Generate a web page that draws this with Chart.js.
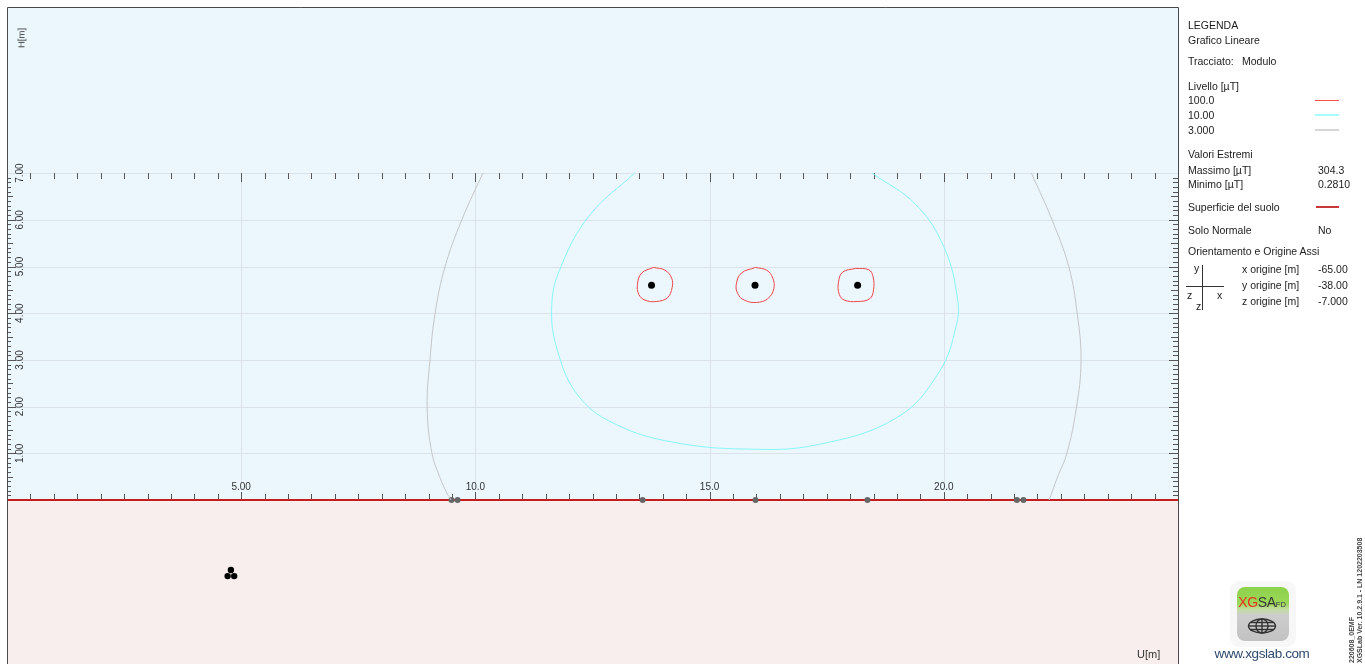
<!DOCTYPE html>
<html>
<head>
<meta charset="utf-8">
<title>Grafico Lineare - Modulo</title>
<script src="https://cdn.jsdelivr.net/npm/chart.js@4/dist/chart.umd.min.js"></script>
<style>
  html, body { margin: 0; padding: 0; background: #fff; overflow: hidden; }
  #wrap { position: relative; width: 1365px; height: 664px; }
  #c { position: absolute; left: 0; top: 0; }
  .t { position: absolute; font: 10.5px "Liberation Sans", Arial, sans-serif; color: #1c1c1c;
       white-space: nowrap; line-height: 14px; height: 14px; }
  .rot { position: absolute; white-space: nowrap; transform: translate(-50%, -50%) rotate(-90deg); }
  .ln { position: absolute; height: 0; }
</style>
</head>
<body>
<div id="wrap">
  <canvas id="c" width="1365" height="664"></canvas>

  <!-- side legend -->
  <div class="t" style="left:1188px;top:18px">LEGENDA</div>
  <div class="t" style="left:1188px;top:33px">Grafico Lineare</div>
  <div class="t" style="left:1188px;top:54px">Tracciato:</div>
  <div class="t" style="left:1242px;top:54px">Modulo</div>
  <div class="t" style="left:1188px;top:79px">Livello [µT]</div>
  <div class="t" style="left:1188px;top:93px">100.0</div>
  <div class="ln" style="left:1315px;top:100px;width:24px;border-top:1px solid #ff4f4f"></div>
  <div class="t" style="left:1188px;top:108px">10.00</div>
  <div class="ln" style="left:1315px;top:114px;width:24px;border-top:2px solid #a6fbff"></div>
  <div class="t" style="left:1188px;top:123px">3.000</div>
  <div class="ln" style="left:1315px;top:129px;width:24px;border-top:2px solid #d6d6d6"></div>
  <div class="t" style="left:1188px;top:147px">Valori Estremi</div>
  <div class="t" style="left:1188px;top:163px">Massimo [µT]</div>
  <div class="t" style="left:1318px;top:163px">304.3</div>
  <div class="t" style="left:1188px;top:177px">Minimo [µT]</div>
  <div class="t" style="left:1318px;top:177px">0.2810</div>
  <div class="t" style="left:1188px;top:200px">Superficie del suolo</div>
  <div class="ln" style="left:1316px;top:206px;width:23px;border-top:2px solid #c83a3a"></div>
  <div class="t" style="left:1188px;top:223px">Solo Normale</div>
  <div class="t" style="left:1318px;top:223px">No</div>
  <div class="t" style="left:1188px;top:244px">Orientamento e Origine Assi</div>
  <div class="t" style="left:1194px;top:261px">y</div>
  <div class="ln" style="left:1202px;top:265px;width:0;height:45px;border-left:1px solid #333"></div>
  <div class="ln" style="left:1186px;top:286px;width:38px;border-top:1px solid #333"></div>
  <div class="t" style="left:1187px;top:288px">z</div>
  <div class="t" style="left:1217px;top:288px">x</div>
  <div class="t" style="left:1196px;top:299px">z</div>
  <div class="t" style="left:1242px;top:262px">x origine [m]</div>
  <div class="t" style="left:1318px;top:262px">-65.00</div>
  <div class="t" style="left:1242px;top:278px">y origine [m]</div>
  <div class="t" style="left:1318px;top:278px">-38.00</div>
  <div class="t" style="left:1242px;top:294px">z origine [m]</div>
  <div class="t" style="left:1318px;top:294px">-7.000</div>

  <!-- axis titles -->
  <div class="rot" style="left:21px;top:38px;font:9.5px 'Liberation Sans',Arial,sans-serif;color:#333">H[m]</div>
  <div class="t" style="left:1137px;top:647px;font-size:11px;color:#333">U[m]</div>

  <!-- logo text -->
  <div style="position:absolute;left:1262px;top:603px;transform:translate(-50%,-50%);white-space:nowrap;font:14px 'Liberation Sans',Arial,sans-serif;line-height:16px;letter-spacing:-0.3px"><span style="color:#e8321e">XG</span><span style="color:#333">SA</span><span style="font-size:7.5px;color:#333;letter-spacing:0">FD</span></div>
  <div style="position:absolute;left:1262px;top:654px;transform:translate(-50%,-50%);white-space:nowrap;font:13.5px 'Liberation Sans',Arial,sans-serif;color:#2f4b6d;line-height:16px;letter-spacing:-0.4px">www.xgslab.com</div>

  <!-- version stamp -->
  <div style="position:absolute;left:1348px;top:663px;transform-origin:0 0;transform:rotate(-90deg);white-space:nowrap;font:bold 7px 'Liberation Sans',Arial,sans-serif;color:#444;line-height:8px">220608_0EMF</div>
  <div style="position:absolute;left:1356px;top:663px;transform-origin:0 0;transform:rotate(-90deg);white-space:nowrap;font:bold 7px 'Liberation Sans',Arial,sans-serif;color:#444;line-height:8px">XGSLab Ver. 10.2.9.1 - LN 1202203508</div>
</div>

<script>
// Axis ticks (U along the section, H height above ground)
const uTickValues = [5, 10, 15, 20];
const uTickLabels = ['5.00', '10.0', '15.0', '20.0'];
const hTickValues = [1, 2, 3, 4, 5, 6, 7];
const hTickLabels = ['1.00', '2.00', '3.00', '4.00', '5.00', '6.00', '7.00'];

// Overhead conductors
const conductorU = [13.76, 15.97, 18.16];
const conductorH = [4.60, 4.60, 4.60];

// Points on the ground surface
const groundU = [9.49, 9.62, 13.57, 15.98, 18.37, 21.56, 21.70];
const groundH = [0, 0, 0, 0, 0, 0, 0];

// Buried cable trefoil
const buriedU = [4.78, 4.71, 4.85];
const buriedH = [-1.50, -1.63, -1.63];

// Iso-level 3.000 µT (two branches)
const level3LeftU = [10.16, 9.71, 9.35, 9.14, 9.03, 8.97, 9.07, 9.24, 9.39, 9.48];
const level3LeftH = [7.00, 6.00, 4.99, 4.00, 3.00, 1.99, 1.01, 0.49, 0.15, 0.00];
const level3RightU = [21.87, 22.31, 22.67, 22.85, 22.93, 22.83, 22.63, 22.42, 22.25];
const level3RightH = [7.00, 6.00, 4.99, 3.98, 2.98, 1.97, 1.01, 0.47, 0.00];

// Iso-level 10.00 µT
const level10U = [13.40, 12.44, 11.84, 11.63, 11.76, 12.23, 13.02, 14.21, 15.79, 17.28, 18.99, 19.90, 20.27, 20.29, 20.01, 19.41, 18.47];
const level10H = [7.00, 6.10, 5.03, 4.18, 3.17, 2.19, 1.61, 1.24, 1.09, 1.18, 1.76, 2.74, 3.75, 4.33, 5.40, 6.32, 7.00];

// Iso-level 100.0 µT (one loop per conductor)
const level100aU = [13.80, 14.05, 14.19, 14.20, 14.10, 13.86, 13.62, 13.49, 13.46, 13.55, 13.80];
const level100aH = [4.98, 4.92, 4.75, 4.55, 4.33, 4.25, 4.28, 4.40, 4.62, 4.86, 4.98];
const level100bU = [15.98, 16.22, 16.35, 16.37, 16.24, 16.00, 15.74, 15.60, 15.57, 15.68, 15.98];
const level100bH = [4.98, 4.92, 4.75, 4.52, 4.31, 4.23, 4.28, 4.42, 4.62, 4.86, 4.98];
const level100cU = [18.12, 18.40, 18.49, 18.50, 18.42, 18.15, 17.88, 17.77, 17.75, 17.84, 18.12];
const level100cH = [4.96, 4.93, 4.78, 4.50, 4.31, 4.25, 4.28, 4.40, 4.65, 4.88, 4.96];

const pts = (us, hs) => us.map((u, i) => ({ x: u, y: hs[i] }));
const curve = (us, hs, color) => ({
  data: pts(us, hs), showLine: true, borderColor: color, borderWidth: 1,
  pointRadius: 0, tension: 0.4, fill: false
});
const dots = (us, hs, color, r) => ({
  data: pts(us, hs), showLine: false, pointRadius: r, pointBorderWidth: 0,
  pointBackgroundColor: color, pointBorderColor: color
});

const crisp = v => Math.round(v) + 0.5;
function seg(ctx, x1, y1, x2, y2) {
  ctx.beginPath(); ctx.moveTo(x1, y1); ctx.lineTo(x2, y2); ctx.stroke();
}
function roundRect(ctx, x, y, w, h, r) {
  ctx.beginPath();
  ctx.moveTo(x + r, y);
  ctx.arcTo(x + w, y, x + w, y + h, r);
  ctx.arcTo(x + w, y + h, x, y + h, r);
  ctx.arcTo(x, y + h, x, y, r);
  ctx.arcTo(x, y, x + w, y, r);
  ctx.closePath();
}

// Section background, grid, ticks, ground line and frame
const sectionFrame = {
  id: 'sectionFrame',
  beforeDatasetsDraw(chart) {
    const { ctx, chartArea: a, scales: { x, y } } = chart;
    const g = y.getPixelForValue(0);
    const top = y.getPixelForValue(hTickValues[hTickValues.length - 1]);
    ctx.save();
    ctx.fillStyle = '#ebf7fd';
    ctx.fillRect(a.left, a.top, a.right - a.left, g - a.top);
    ctx.fillStyle = '#f7eeed';
    ctx.fillRect(a.left, g, a.right - a.left, a.bottom - g);

    ctx.lineWidth = 1;
    ctx.strokeStyle = '#dbe2e9';
    hTickValues.forEach(h => { const p = crisp(y.getPixelForValue(h)); seg(ctx, a.left, p, a.right, p); });
    uTickValues.forEach(u => { const p = crisp(x.getPixelForValue(u)); seg(ctx, p, top, p, g - 17); });

    ctx.strokeStyle = '#555';
    for (let i = 1; i < 50; i++) {
      const p = crisp(x.getPixelForValue(i * 0.5));
      const major = i % 10 === 0;
      seg(ctx, p, top, p, top + (major ? 9 : 6));
      seg(ctx, p, g, p, g - (major ? 8 : 6));
    }
    for (let i = 1; i < 70; i++) {
      const p = crisp(y.getPixelForValue(i / 10));
      const major = i % 10 === 0, half = i % 5 === 0;
      seg(ctx, a.left, p, a.left + (major ? 9 : half ? 6 : 4), p);
      seg(ctx, a.right, p, a.right - (major ? 9 : half ? 7 : 5), p);
    }

    ctx.strokeStyle = '#c41e1e';
    ctx.lineWidth = 2;
    seg(ctx, a.left, Math.round(g), a.right, Math.round(g));

    ctx.strokeStyle = '#4a4a4a';
    ctx.lineWidth = 1;
    ctx.beginPath();
    ctx.moveTo(crisp(a.left), a.bottom);
    ctx.lineTo(crisp(a.left), crisp(a.top));
    ctx.lineTo(crisp(a.right), crisp(a.top));
    ctx.lineTo(crisp(a.right), a.bottom);
    ctx.stroke();
    ctx.restore();
  },
  afterDatasetsDraw(chart) {
    const { ctx, scales: { x, y } } = chart;
    const g = y.getPixelForValue(0);
    ctx.save();
    ctx.font = '10px "Liberation Sans", Arial, sans-serif';
    ctx.fillStyle = '#333';
    ctx.textAlign = 'center';
    ctx.textBaseline = 'middle';
    uTickValues.forEach((u, i) => ctx.fillText(uTickLabels[i], x.getPixelForValue(u), g - 13));
    hTickValues.forEach((h, i) => {
      ctx.save();
      ctx.translate(20.5, y.getPixelForValue(h));
      ctx.rotate(-Math.PI / 2);
      ctx.fillText(hTickLabels[i], 0, 0);
      ctx.restore();
    });
    ctx.restore();
  },
  afterDraw(chart) {
    // product badge
    const ctx = chart.ctx;
    const lx = 1237, ly = 587, lw = 52, lh = 54;
    ctx.save();
    ctx.fillStyle = 'rgba(0,0,0,0.03)';
    roundRect(ctx, lx - 7, ly - 6, lw + 14, lh + 12, 9);
    ctx.fill();
    const grad = ctx.createLinearGradient(0, ly, 0, ly + lh);
    grad.addColorStop(0, '#8cd24a');
    grad.addColorStop(0.3, '#9cd75a');
    grad.addColorStop(0.42, '#c3dca4');
    grad.addColorStop(0.52, '#cdcdcd');
    grad.addColorStop(1, '#c2c2c2');
    ctx.fillStyle = grad;
    roundRect(ctx, lx, ly, lw, lh, 8);
    ctx.fill();

    const cx = 1262, cy = 626;
    ctx.strokeStyle = '#333';
    ctx.lineWidth = 1.4;
    ctx.beginPath(); ctx.ellipse(cx, cy, 13.5, 7, 0, 0, Math.PI * 2); ctx.stroke();
    ctx.beginPath(); ctx.ellipse(cx, cy, 6, 7, 0, 0, Math.PI * 2); ctx.stroke();
    seg(ctx, cx, cy - 7, cx, cy + 7);
    seg(ctx, cx - 13.5, cy, cx + 13.5, cy);
    seg(ctx, cx - 11.5, cy - 3.5, cx + 11.5, cy - 3.5);
    seg(ctx, cx - 11.5, cy + 3.5, cx + 11.5, cy + 3.5);
    ctx.restore();
  }
};

new Chart(document.getElementById('c'), {
  type: 'scatter',
  data: {
    datasets: [
      curve(level3LeftU, level3LeftH, '#c6c6c6'),
      curve(level3RightU, level3RightH, '#c6c6c6'),
      curve(level10U, level10H, '#88f6fa'),
      curve(level100aU, level100aH, '#f04848'),
      curve(level100bU, level100bH, '#f04848'),
      curve(level100cU, level100cH, '#f04848'),
      dots(conductorU, conductorH, '#000', 3.5),
      dots(groundU, groundH, '#666', 3),
      dots(buriedU, buriedH, '#000', 3.2)
    ]
  },
  options: {
    responsive: false,
    animation: false,
    events: [],
    layout: { autoPadding: false, padding: { left: 7, right: 187, top: 7, bottom: 0 } },
    plugins: { legend: { display: false }, tooltip: { enabled: false } },
    scales: {
      x: { type: 'linear', min: 0, max: 25, display: false },
      y: { type: 'linear', min: -3.512, max: 10.557, display: false }
    }
  },
  plugins: [sectionFrame]
});
</script>
</body>
</html>
